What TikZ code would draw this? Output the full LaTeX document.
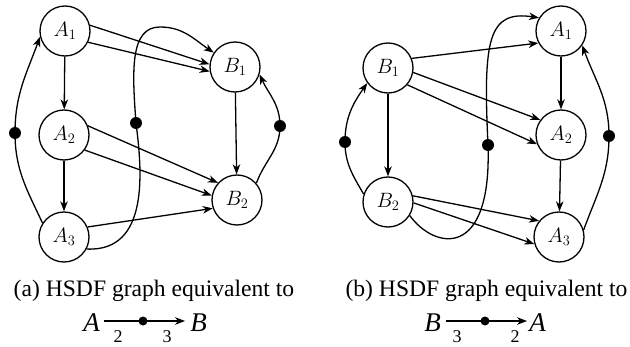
\documentclass[tikz,border=0pt]{standalone}
\usepackage[no-math]{fontspec}
\setmainfont{Liberation Serif}
\usetikzlibrary{arrows.meta}
\begin{document}
\begin{tikzpicture}[x=1pt,y=1pt,
  actor/.style={draw,circle,minimum size=50pt,inner sep=0pt,line width=1.3pt,font=\fontsize{21}{25}\selectfont},
  edge/.style={line width=1.3pt,-{Stealth[length=10pt,width=7.5pt,inset=3pt]}},
  tok/.style={circle,fill,inner sep=0pt,minimum size=12pt},
  captok/.style={circle,fill,inner sep=0pt,minimum size=9pt},
  captext/.style={anchor=base,inner sep=0pt,font=\fontsize{23.6}{28}\selectfont},
  capletter/.style={anchor=base,inner sep=0pt,font=\fontsize{27}{30}\selectfont\itshape},
  capnum/.style={anchor=base,inner sep=0pt,font=\fontsize{18}{21}\selectfont}]
\useasboundingbox (0,0) rectangle (630,346);

% ---------------- left panel ----------------
\node[actor] (la1) at (65,315) {$A_1$};
\node[actor] (la2) at (64,211) {$A_2$};
\node[actor] (la3) at (64,109) {$A_3$};
\node[actor] (lb1) at (235,279) {$B_1$};
\node[actor] (lb2) at (237,146) {$B_2$};
\coordinate (ldot) at (15,213);
\coordinate (mdot) at (136,223);
\coordinate (rdot) at (280,220);
\coordinate (ltop) at (160,319);

\draw[edge] (la1) -- (la2);
\draw[edge] (la2) -- (la3);
\draw[edge] (lb1) -- (lb2);
\draw[edge] (la1.13) -- (lb1.174);
\draw[edge] (la1.-26) -- (lb1.-170);
\draw[edge] (la2.21) -- (lb2.138);
\draw[edge] (la2.-36) -- (lb2.170);
\draw[edge] (la3.23) -- (lb2.-161);
\draw[edge] (lb2.41) to[out=70,in=-90] (rdot) to[out=90,in=-65] (lb1.-17);
\draw[edge] (la3.147) to[out=115,in=-90] (ldot) to[out=90,in=-110] (la1.193);
\draw[edge] (la3.-28) .. controls (150,94) and (142,176) .. (mdot)
  .. controls (132,276) and (130,319) .. (ltop) to[out=0,in=146] (lb1.146);
\node[tok] at (ldot) {};
\node[tok] at (mdot) {};
\node[tok] at (rdot) {};

% ---------------- right panel ----------------
\node[actor] (rb1) at (388,278) {$B_1$};
\node[actor] (rb2) at (388,144) {$B_2$};
\node[actor] (ra1) at (561,315) {$A_1$};
\node[actor] (ra2) at (561,211) {$A_2$};
\node[actor] (ra3) at (559,109) {$A_3$};
\coordinate (lld) at (345,204);
\coordinate (mmd) at (488,201);
\coordinate (rrd) at (609,210);

\draw[edge] (rb1) -- (rb2);
\draw[edge] (ra1) -- (ra2);
\draw[edge] (ra2) -- (ra3);
\draw[edge] (rb1.22) -- (ra1.-152);
\draw[edge] (rb1.-10) -- (ra2.144);
\draw[edge] (rb1.-41) -- (ra2.-159);
\draw[edge] (rb2.14) -- (ra3.141);
\draw[edge] (rb2.-2) -- (ra3.-164);
\draw[edge] (rb2.162) to[out=120,in=-90] (lld) to[out=90,in=-125] (rb1.-144);
\draw[edge] (ra3.16) to[out=70,in=-90] (rrd) to[out=90,in=-70] (ra1.-34);
\draw[edge] (rb2.-32) .. controls (435,96) and (492,86) .. (mmd)
  .. controls (483,306) and (488,336) .. (ra1.149);
\node[tok] at (lld) {};
\node[tok] at (mmd) {};
\node[tok] at (rrd) {};

% ---------------- captions ----------------
\node[captext] (capa) at (154,50) {(a) HSDF graph equivalent to};
\node[capletter] (caA) at (91.5,15) {A};
\node[capletter] (caB) at (198.5,15) {B};
\draw[edge] ([xshift=4pt,yshift=10pt]caA.base east) -- ([xshift=-5pt,yshift=10pt]caB.base west);
\node[captok] at (143,25) {};
\node[capnum] at (118,3.5) {2};
\node[capnum] at (167,3.5) {3};

\node[captext] (capb) at (486.5,50) {(b) HSDF graph equivalent to};
\node[capletter] (cbB) at (432.5,15) {B};
\node[capletter] (cbA) at (537.5,15) {A};
\draw[edge] ([xshift=5pt,yshift=10pt]cbB.base east) -- ([xshift=-2pt,yshift=10pt]cbA.base west);
\node[captok] at (485,25) {};
\node[capnum] at (457,3.5) {3};
\node[capnum] at (515,3.5) {2};
\end{tikzpicture}
\end{document}
